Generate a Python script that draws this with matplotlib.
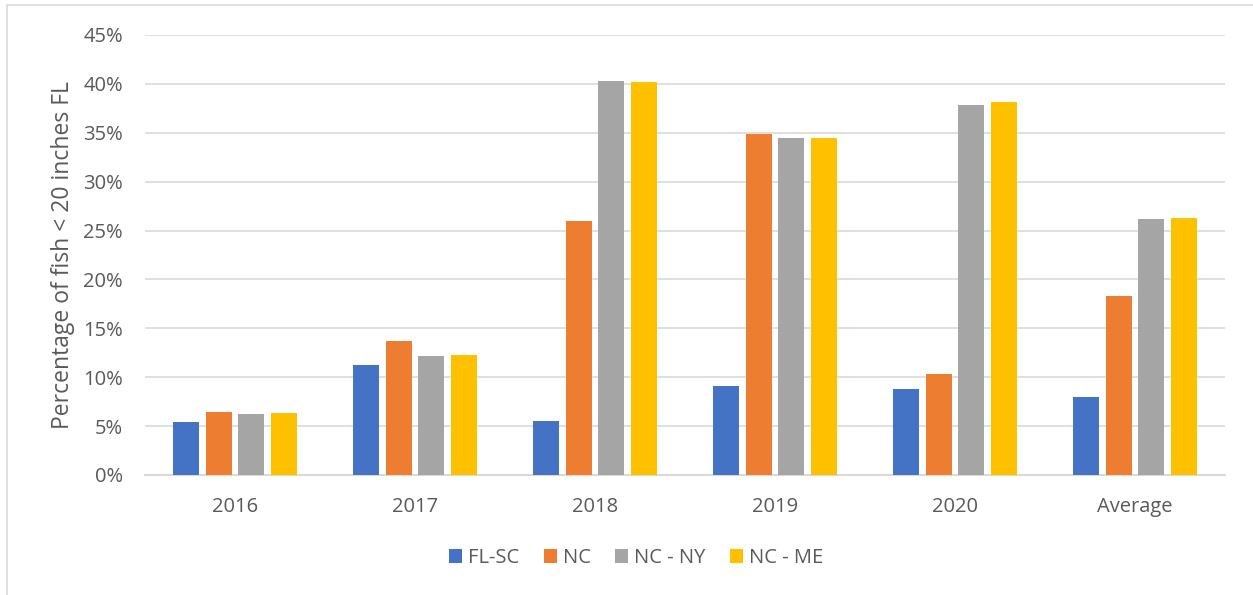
import matplotlib
matplotlib.use("Agg")
import matplotlib.pyplot as plt
import numpy as np
from matplotlib.patches import Rectangle
from matplotlib.ticker import FuncFormatter, MultipleLocator

categories = ["2016", "2017", "2018", "2019", "2020", "Average"]
series_names = ["FL-SC", "NC", "NC - NY", "NC - ME"]
fl_sc = [5.4, 11.2, 5.5, 9.1, 8.8, 8.0]
nc = [6.4, 13.7, 26.0, 34.9, 10.3, 18.3]
nc_ny = [6.2, 12.2, 40.3, 34.5, 37.8, 26.2]
nc_me = [6.3, 12.3, 40.2, 34.5, 38.1, 26.3]
colors = ["#4472C4", "#ED7D31", "#A5A5A5", "#FFC000"]

plt.rcParams['font.family'] = ['Open Sans', 'DejaVu Sans']
text_color = "#595959"

fig = plt.figure(figsize=(12.53, 5.95), dpi=100)
ax = fig.add_axes([145/1253, 120/595, 1080/1253, 440/595])

x = np.arange(len(categories))
pitch = 0.182
width = 0.145
all_series = [fl_sc, nc, nc_ny, nc_me]
for i, (vals, name, c) in enumerate(zip(all_series, series_names, colors)):
    ax.bar(x + (i - 1.5) * pitch, vals, width, color=c, label=name, zorder=3)

ax.set_xlim(-0.5, len(categories) - 0.5)
ax.set_ylim(0, 45)
ax.yaxis.set_major_locator(MultipleLocator(5))
ax.yaxis.set_major_formatter(FuncFormatter(lambda v, p: f"{int(round(v))}%"))
ax.grid(axis='y', color="#D9D9D9", linewidth=1.2, zorder=0)
for s in ["top", "right", "left"]:
    ax.spines[s].set_visible(False)
ax.spines["bottom"].set_color("#D9D9D9")
ax.spines["bottom"].set_linewidth(1.5)
ax.tick_params(axis='both', length=0, colors=text_color, labelsize=14.5)
ax.tick_params(axis='y', pad=16)
ax.tick_params(axis='x', pad=16)
ax.set_xticks(x)
ax.set_xticklabels(categories)
ax.set_ylabel("Percentage of fish < 20 inches FL", color=text_color, fontsize=16.5, labelpad=6)

leg = fig.legend(loc='center', bbox_to_anchor=(636/1253, 1 - 558/595), ncol=4, frameon=False,
                 fontsize=14.5, handlelength=0.65, handleheight=0.65, handletextpad=0.3,
                 columnspacing=1.2, labelcolor=text_color)

fig.patches.append(Rectangle((7/1253, -0.05), 1.2, 1 - 5/595 + 0.05, transform=fig.transFigure,
                             fill=False, edgecolor="#D9D9D9", linewidth=1.2))

fig.savefig("out.png", dpi=100)
